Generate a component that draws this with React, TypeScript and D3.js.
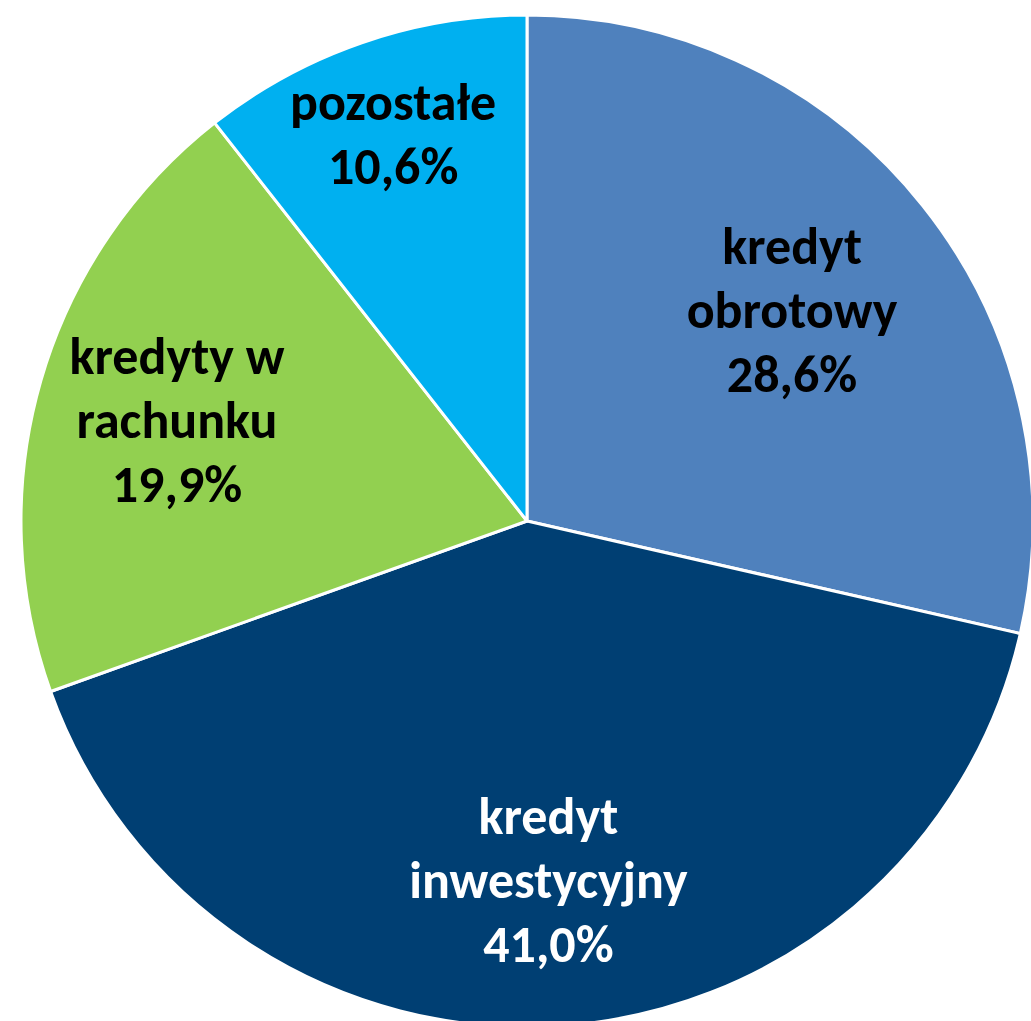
import React from 'react';
import * as d3 from 'd3';

// slices clockwise from 12 o'clock
const categories = ['kredyt obrotowy', 'kredyt inwestycyjny', 'kredyty w rachunku', 'pozostałe'];
const labelLines = [['kredyt', 'obrotowy'], ['kredyt', 'inwestycyjny'], ['kredyty w', 'rachunku'], ['pozostałe']];
const values = [28.6, 41.0, 19.9, 10.6];
const colors = ['#4F81BD', '#003F73', '#92D050', '#00B0F0'];
const textColors = ['#000', '#fff', '#000', '#000'];
// how far out the label sits, as a share of the radius
const labelRadius = [0.67, 0.71, 0.72, 0.81];

const width = 1031;
const height = 1021;
const cx = 527;
const cy = 521;
const r = 506;

const fmt = (v: number) => v.toFixed(1).replace('.', ',') + '%';

export default function App() {
  const pie = d3.pie<number>().sort(null).value(d => d);
  const arcs = pie(values);
  const arc = d3.arc<d3.PieArcDatum<number>>().innerRadius(0).outerRadius(r);
  const lineH = 64;

  return (
    <svg width={width} height={height} style={{ position: 'absolute', left: 0, top: 0 }}>
      <g transform={`translate(${cx},${cy})`}>
        {arcs.map((a, i) => (
          <path key={categories[i]} d={arc(a) || ''} fill={colors[i]} stroke="#fff" strokeWidth={3} strokeLinejoin="round" />
        ))}
        {arcs.map((a, i) => {
          const mid = (a.startAngle + a.endAngle) / 2;
          const lr = r * labelRadius[i];
          const x = Math.sin(mid) * lr;
          const y = -Math.cos(mid) * lr;
          const lines = [...labelLines[i], fmt(values[i])];
          const y0 = y - ((lines.length - 1) * lineH) / 2;
          return (
            <text key={'l' + i} x={x} textAnchor="middle" dominantBaseline="central"
              fontFamily="Carlito, Calibri, Lato, 'Open Sans', sans-serif"
              fontWeight="bold" fontSize={52} fill={textColors[i]}>
              {lines.map((t, j) => (
                <tspan key={j} x={x} y={y0 + j * lineH}>{t}</tspan>
              ))}
            </text>
          );
        })}
      </g>
    </svg>
  );
}
